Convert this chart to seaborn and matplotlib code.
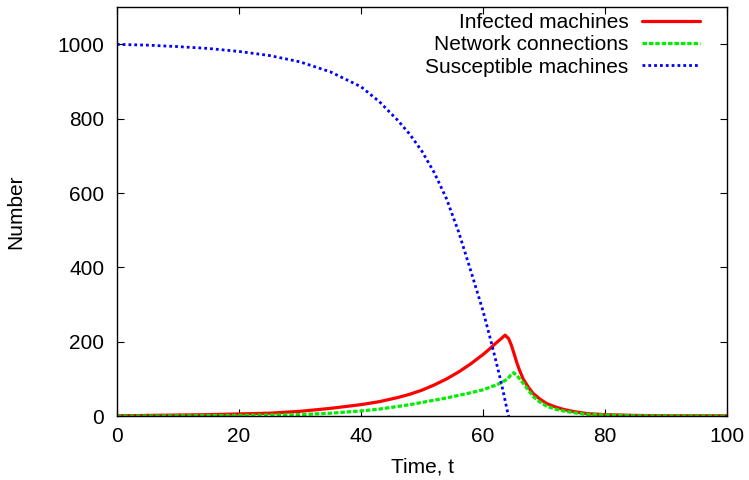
import pandas as pd
import matplotlib
matplotlib.use("Agg")
import matplotlib.pyplot as plt
import seaborn as sns

# Values
t_infected = [0, 5, 10, 15, 20, 25, 30, 35, 40, 43, 46, 48, 50, 52, 54, 56, 58, 60, 61, 62, 63,
              63.6, 64.2, 64.6, 65, 65.5, 66, 66.6, 67.4, 68.2, 69.3, 70.4, 71.8, 73.2, 75, 77,
              80, 85, 90, 100]
infected = [1, 2, 3, 4, 6, 8, 13, 21, 31, 39, 50, 59, 70, 84, 100, 119, 141, 166, 180, 195, 209,
            218, 208, 192, 172, 145, 122, 99, 78, 61, 46, 34, 25, 18, 12, 7,
            4, 2, 1, 1]

t_network = [0, 5, 10, 15, 20, 25, 30, 35, 40, 43, 46, 48, 50, 52, 54, 56, 58, 60, 61, 62, 63,
             64, 64.5, 65, 65.6, 66.6, 67.4, 68.2, 69.3, 70.4, 71.8, 73.2, 75, 77, 80, 85, 90, 100]
network = [0, 0.5, 1, 1.5, 2, 3, 4, 8, 14, 19, 26, 31, 37, 43, 49, 56, 63, 71, 77, 83, 90,
           100, 110, 117, 108, 88, 70, 53, 38, 27, 19, 14, 9, 5, 3, 1, 0.5, 0]

t_susceptible = [0, 5, 10, 15, 20, 25, 30, 35, 40, 43, 46, 48, 50, 52, 54, 56, 58, 60, 61, 62,
                 63, 64, 64.2]
susceptible = [1000, 998, 994, 989, 981, 970, 953, 926, 886, 846, 796, 758, 712, 655, 585, 495,
               390, 282, 220, 155, 88, 12, 0]

sns.set_style("ticks")
plt.rcParams['font.family'] = ['Liberation Sans', 'DejaVu Sans']
plt.rcParams['text.color'] = 'black'
plt.rcParams['axes.labelcolor'] = 'black'

fig = plt.figure(figsize=(7.49, 4.8), dpi=100)
ax = fig.add_axes([0.156, 0.133, 0.815, 0.852])

sns.lineplot(x=t_infected, y=infected, ax=ax, color='#ff0000', lw=2.3,
             label='Infected machines')
sns.lineplot(x=t_network, y=network, ax=ax, color='#00ee00', lw=2.3,
             linestyle=(0, (1.4, 0.6)), label='Network connections')
sns.lineplot(x=t_susceptible, y=susceptible, ax=ax, color='#0000ff', lw=2.0,
             linestyle=(0, (1, 1.1)), label='Susceptible machines')

ax.set_xlim(0, 100)
ax.set_ylim(0, 1100)
ax.set_xticks(range(0, 101, 20))
ax.set_yticks(range(0, 1001, 200))
ax.tick_params(direction='in', top=True, right=True, length=5, width=0.8,
               labelsize=15, colors='black')
ax.tick_params(axis='x', pad=8)
ax.tick_params(axis='y', pad=9)
for s in ax.spines.values():
    s.set_linewidth(1.0)
    s.set_color('black')

ax.set_xlabel("Time, t", fontsize=15, labelpad=8)
ax.set_ylabel("Number", fontsize=15, labelpad=23)

ax.legend(loc='upper right', bbox_to_anchor=(0.956, 0.985), frameon=False,
          markerfirst=False, fontsize=15, handlelength=2.8, handletextpad=0.65,
          labelspacing=0.15, borderpad=0, borderaxespad=0)

plt.savefig('out.png', dpi=100)
plt.close()
